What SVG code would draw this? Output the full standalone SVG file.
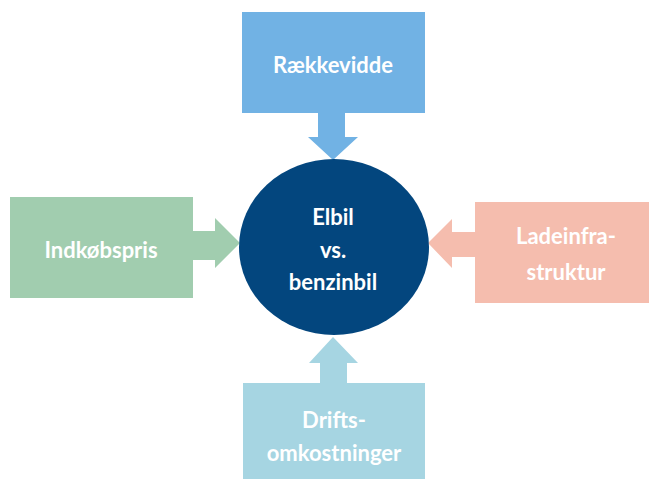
<svg xmlns="http://www.w3.org/2000/svg" width="649" height="479" viewBox="0 0 649 479">
<style>
text{font-family:Lato,"Open Sans","Liberation Sans",sans-serif;font-weight:bold;font-size:22px;fill:#fff;text-anchor:middle}
.top{fill:#71B2E4}.left{fill:#A1CDAF}.right{fill:#F5BDAE}.bottom{fill:#A6D5E2}
</style>
<rect width="649" height="479" fill="#fff"/>
<g id="connectors">
<polygon class="top" points="318,112 345,112 345,137 358,137 333,160 308,137 318,137"/>
<polygon class="left" points="192,231 215,231 215,218 240,243 215,268 215,260 192,260"/>
<polygon class="right" points="476,232 452,232 452,219 428,243 452,268 452,257 476,257"/>
<polygon class="bottom" points="320,384 347,384 347,363 358,363 333,337 309,363 320,363"/>
</g>
<g id="center">
<ellipse cx="334" cy="247" rx="95" ry="88" fill="#03467E"/>
<text x="333" y="225">Elbil</text>
<text x="333" y="258">vs.</text>
<text x="333" y="290">benzinbil</text>
</g>
<g id="raekkevidde">
<rect class="top" x="242" y="12" width="183" height="101"/>
<text x="333" y="73">Rækkevidde</text>
</g>
<g id="indkoebspris">
<rect class="left" x="10" y="197" width="183" height="101"/>
<text x="101" y="258">Indkøbspris</text>
</g>
<g id="ladeinfrastruktur">
<rect class="right" x="475" y="202" width="174" height="101"/>
<text x="566" y="244">Ladeinfra-</text>
<text x="566" y="280">struktur</text>
</g>
<g id="driftsomkostninger">
<rect class="bottom" x="243" y="383" width="182" height="96"/>
<text x="334" y="428">Drifts-</text>
<text x="334" y="461">omkostninger</text>
</g>
</svg>
